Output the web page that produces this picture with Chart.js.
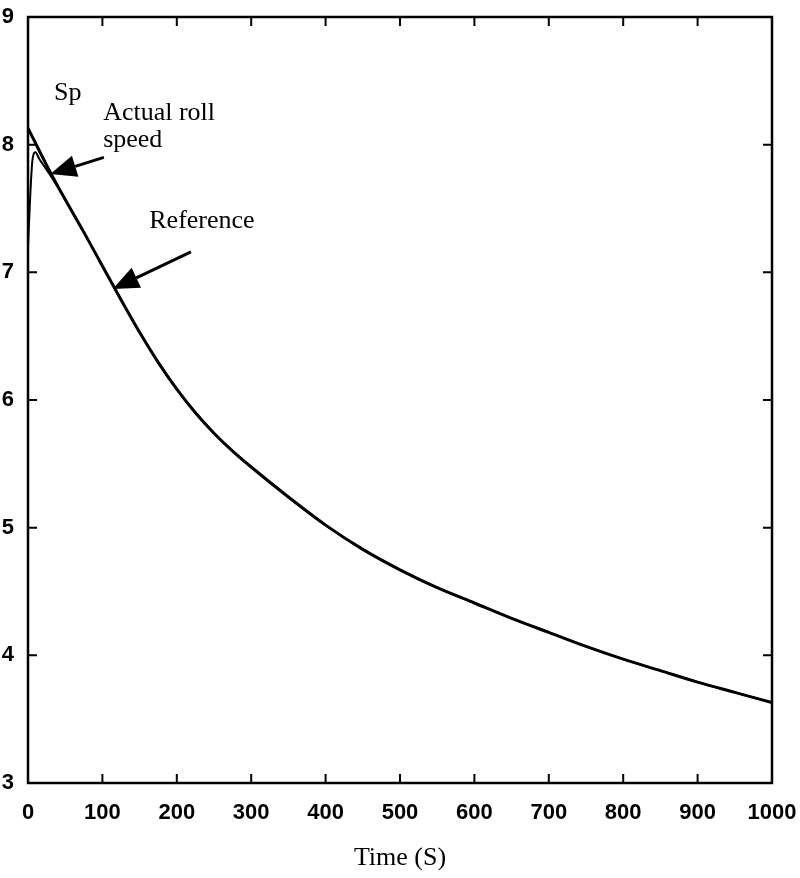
<!DOCTYPE html>
<html>
<head>
<meta charset="utf-8">
<script src="https://cdn.jsdelivr.net/npm/chart.js@4.4.1/dist/chart.umd.min.js"></script>
<style>
  html, body { margin: 0; padding: 0; background: #fff; }
  #wrap { width: 800px; height: 878px; }
</style>
</head>
<body>
<div id="wrap"><canvas id="chart" width="800" height="878"></canvas></div>
<script>
// Roll speed vs time - reference curve and actual roll speed

// Reference speed
const refTime = [0, 25, 50, 75, 100, 125, 150, 175, 200, 225, 250, 275, 300, 350, 400, 450, 500, 550, 600, 650, 700, 750, 800, 850, 900, 950, 1000];
const refSpeed = [8.13, 7.84, 7.57, 7.315, 7.05, 6.785, 6.53, 6.295, 6.085, 5.90, 5.74, 5.60, 5.475, 5.24, 5.02, 4.83, 4.67, 4.53, 4.41, 4.29, 4.18, 4.07, 3.97, 3.88, 3.79, 3.71, 3.63];

// Actual roll speed: start-up transient, then it follows the reference
const actTime = [0, 3, 6, 10, 15, 22, 30, 50, 75, 100, 125, 150, 175, 200, 225, 250, 275, 300, 350, 400, 450, 500, 550, 600, 650, 700, 750, 800, 850, 900, 950, 1000];
const actSpeed = [7.2, 7.6, 7.88, 7.94, 7.89, 7.83, 7.76, 7.57, 7.315, 7.05, 6.785, 6.53, 6.295, 6.085, 5.90, 5.74, 5.60, 5.475, 5.24, 5.02, 4.83, 4.67, 4.53, 4.41, 4.29, 4.18, 4.07, 3.97, 3.88, 3.79, 3.71, 3.63];

// Axis ticks
const xTicks = [0, 100, 200, 300, 400, 500, 600, 700, 800, 900, 1000];
const yTicks = [3, 4, 5, 6, 7, 8, 9];

const serif = '"Liberation Serif", "Times New Roman", serif';
const sans = '"Liberation Sans", Arial, sans-serif';

// Text labels and arrows, placed in data units (time, speed)
const notes = [
  { text: 'Sp', t: 35, v: 8.35 },
  { text: 'Actual roll', t: 101, v: 8.19 },
  { text: 'speed', t: 101, v: 7.98 },
  { text: 'Reference', t: 163, v: 7.35 }
];
const arrows = [
  { from: [102, 7.9], to: [30, 7.77] },
  { from: [219, 7.16], to: [114, 6.87] }
];

// Box with inward ticks on all four sides, plus annotations
const framePlugin = {
  id: 'frame',
  afterDatasetsDraw(chart) {
    const { ctx, chartArea: a, scales: { x, y } } = chart;
    ctx.save();
    ctx.strokeStyle = '#000';
    ctx.lineWidth = 2.5;
    ctx.strokeRect(a.left, a.top, a.right - a.left, a.bottom - a.top);

    ctx.lineWidth = 2;
    const len = 9;
    ctx.beginPath();
    xTicks.forEach(v => {
      const px = x.getPixelForValue(v);
      ctx.moveTo(px, a.bottom); ctx.lineTo(px, a.bottom - len);
      ctx.moveTo(px, a.top); ctx.lineTo(px, a.top + len);
    });
    yTicks.forEach(v => {
      const py = y.getPixelForValue(v);
      ctx.moveTo(a.left, py); ctx.lineTo(a.left + len, py);
      ctx.moveTo(a.right, py); ctx.lineTo(a.right - len, py);
    });
    ctx.stroke();

    // annotation text
    ctx.fillStyle = '#000';
    ctx.font = '26px ' + serif;
    ctx.textAlign = 'left';
    ctx.textBaseline = 'alphabetic';
    notes.forEach(n => {
      ctx.fillText(n.text, x.getPixelForValue(n.t), y.getPixelForValue(n.v));
    });

    // arrows with filled heads
    arrows.forEach(ar => {
      const x0 = x.getPixelForValue(ar.from[0]), y0 = y.getPixelForValue(ar.from[1]);
      const x1 = x.getPixelForValue(ar.to[0]), y1 = y.getPixelForValue(ar.to[1]);
      const ang = Math.atan2(y1 - y0, x1 - x0);
      const headLen = 26, headW = 11;
      const bx = x1 - headLen * Math.cos(ang), by = y1 - headLen * Math.sin(ang);
      ctx.lineWidth = 3;
      ctx.beginPath();
      ctx.moveTo(x0, y0); ctx.lineTo(bx, by);
      ctx.stroke();
      ctx.beginPath();
      ctx.moveTo(x1, y1);
      ctx.lineTo(bx + headW * Math.sin(ang), by - headW * Math.cos(ang));
      ctx.lineTo(bx - headW * Math.sin(ang), by + headW * Math.cos(ang));
      ctx.closePath();
      ctx.fill();
    });
    ctx.restore();
  }
};

new Chart(document.getElementById('chart'), {
  type: 'line',
  data: {
    datasets: [
      {
        label: 'Reference',
        data: refTime.map((t, i) => ({ x: t, y: refSpeed[i] })),
        borderColor: '#000',
        borderWidth: 3,
        pointRadius: 0,
        cubicInterpolationMode: 'monotone',
        fill: false
      },
      {
        label: 'Actual roll speed',
        data: actTime.map((t, i) => ({ x: t, y: actSpeed[i] })),
        borderColor: '#000',
        borderWidth: 2,
        pointRadius: 0,
        cubicInterpolationMode: 'monotone',
        fill: false
      }
    ]
  },
  options: {
    responsive: false,
    animation: false,
    layout: { padding: { top: 17, right: 28, bottom: 0, left: 0 } },
    plugins: {
      legend: { display: false },
      tooltip: { enabled: false }
    },
    scales: {
      x: {
        type: 'linear',
        min: 0,
        max: 1000,
        afterFit(scale) {
          scale.height = 95;
          scale.paddingLeft = 0;
          scale.paddingRight = 0;
        },
        afterBuildTicks(scale) { scale.ticks = xTicks.map(v => ({ value: v })); },
        grid: { display: false },
        border: { display: false },
        ticks: {
          color: '#000',
          padding: 9,
          maxRotation: 0,
          font: { family: sans, size: 22, weight: 'bold' },
          callback: v => String(v)
        },
        title: {
          display: true,
          text: 'Time (S)',
          color: '#000',
          font: { family: serif, size: 26 },
          padding: { top: 0, bottom: 4 }
        }
      },
      y: {
        type: 'linear',
        min: 3,
        max: 9,
        afterFit(scale) {
          scale.width = 28;
          scale.paddingTop = 0;
          scale.paddingBottom = 0;
        },
        afterBuildTicks(scale) { scale.ticks = yTicks.map(v => ({ value: v })); },
        grid: { display: false },
        border: { display: false },
        ticks: {
          color: '#000',
          padding: 6,
          font: { family: sans, size: 22, weight: 'bold' },
          callback: v => String(v)
        }
      }
    }
  },
  plugins: [framePlugin]
});
</script>
</body>
</html>
